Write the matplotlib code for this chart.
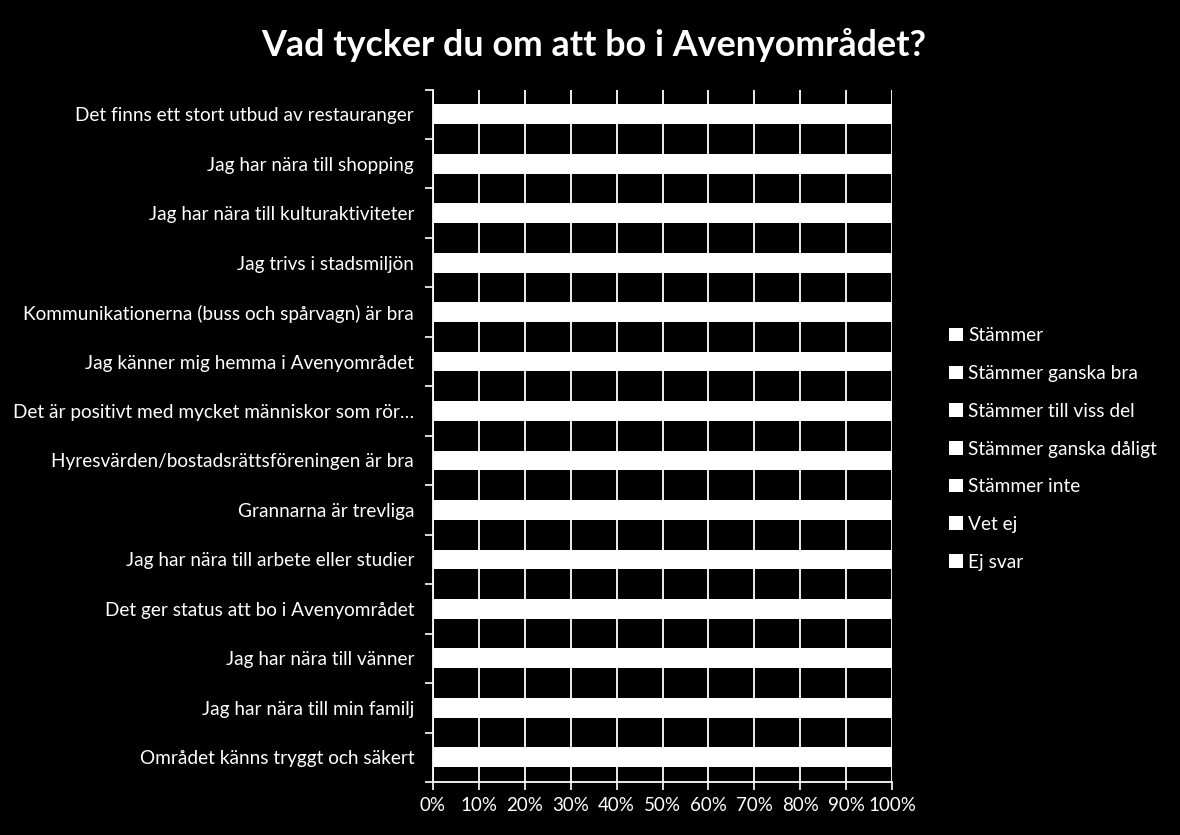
import matplotlib
matplotlib.use("Agg")
import matplotlib.pyplot as plt
import numpy as np

categories = [
    "Det finns ett stort utbud av restauranger",
    "Jag har nära till shopping",
    "Jag har nära till kulturaktiviteter",
    "Jag trivs i stadsmiljön",
    "Kommunikationerna (buss och spårvagn) är bra",
    "Jag känner mig hemma i Avenyområdet",
    "Det är positivt med mycket människor som rör…",
    "Hyresvärden/bostadsrättsföreningen är bra",
    "Grannarna är trevliga",
    "Jag har nära till arbete eller studier",
    "Det ger status att bo i Avenyområdet",
    "Jag har nära till vänner",
    "Jag har nära till min familj",
    "Området känns tryggt och säkert",
]
series_names = ["Stämmer", "Stämmer ganska bra", "Stämmer till viss del",
                "Stämmer ganska dåligt", "Stämmer inte", "Vet ej", "Ej svar"]

stammer          = [88, 84, 76, 72, 70, 60, 52, 40, 34, 40, 20, 30, 22, 28]
stammer_ganska   = [9, 11, 15, 20, 21, 26, 28, 30, 34, 22, 24, 22, 16, 38]
stammer_viss     = [2, 3, 6, 6, 6, 9, 13, 15, 19, 14, 26, 17, 14, 24]
stammer_daligt   = [0, 1, 1, 1, 1, 2, 4, 6, 6, 8, 12, 11, 12, 6]
stammer_inte     = [0, 0, 0, 0, 1, 2, 2, 5, 3, 12, 14, 14, 30, 3]
vet_ej           = [0, 0, 1, 0, 0, 0, 0, 2, 3, 2, 3, 4, 4, 0]
ej_svar          = [1, 1, 1, 1, 1, 1, 1, 2, 1, 2, 1, 2, 2, 1]
series = [stammer, stammer_ganska, stammer_viss, stammer_daligt,
          stammer_inte, vet_ej, ej_svar]

FONT = ["Lato", "DejaVu Sans"]
plt.rcParams['font.family'] = FONT

fig = plt.figure(figsize=(11.8, 8.35), dpi=100, facecolor="black")
ax = fig.add_axes([433/1180, 1-782/835, (892-433)/1180, (782-89.5)/835])
ax.set_facecolor("black")

data = np.array(series, dtype=float)
totals = data.sum(axis=0)
pct = data / totals * 100
n = len(categories)
ypos = np.arange(n)[::-1]
left = np.zeros(n)
handles = []
for name, vals in zip(series_names, pct):
    b = ax.barh(ypos, vals, left=left, height=0.4, color="white",
                edgecolor="none", label=name, zorder=3)
    handles.append(b)
    left += vals

ax.set_xlim(0, 100)
ax.set_ylim(-0.5, n - 0.5)
ax.set_xticks(np.arange(0, 101, 10))
ax.set_xticklabels([f"{v}%" for v in range(0, 101, 10)], color="white", fontsize=13.5)
ax.xaxis.grid(True, color="white", linewidth=1.3, zorder=0)
ax.set_axisbelow(True)
ax.set_yticks(ypos)
ax.set_yticklabels([c + " " for c in categories], color="white", fontsize=13.7)
ax.tick_params(axis="y", length=0, pad=10)
ax.tick_params(axis="x", length=6, color="white", width=1.2, pad=5)
ax.set_yticks(np.arange(-0.5, n, 1.0), minor=True)
ax.tick_params(axis="y", which="minor", length=6, color="white", width=1.2)
for s in ["top", "right"]:
    ax.spines[s].set_visible(False)
for s in ["left", "bottom"]:
    ax.spines[s].set_color("white")
    ax.spines[s].set_linewidth(1.3)

fig.text(594/1180, 1-45/835, "Vad tycker du om att bo i Avenyområdet?",
         ha="center", va="center", color="white", fontsize=25.8, fontweight="bold")

leg = fig.legend(handles=handles, labels=series_names, loc="center left",
                 bbox_to_anchor=(932/1180, 1-449/835), frameon=False,
                 handlelength=0.7, handleheight=0.7, handletextpad=0.3,
                 labelspacing=1.08, fontsize=13.8)
for t in leg.get_texts():
    t.set_color("white")

fig.savefig("out.png", dpi=100, facecolor="black")
